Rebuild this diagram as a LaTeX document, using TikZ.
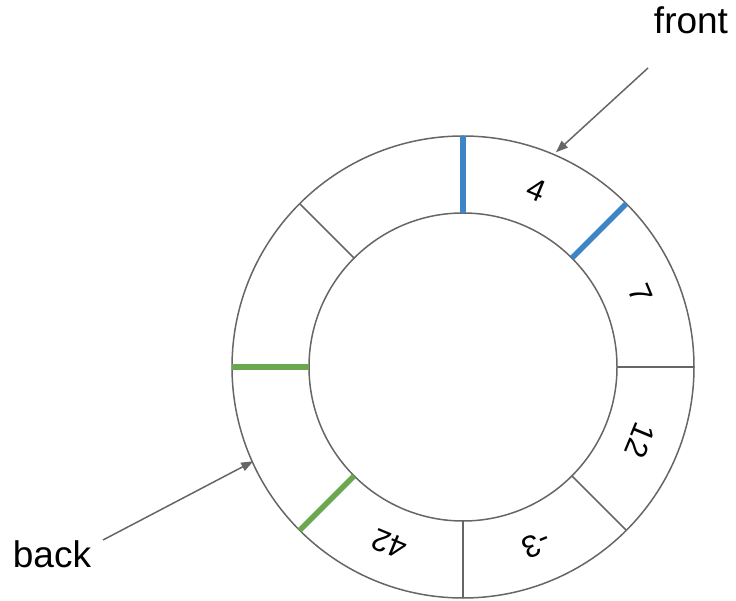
\documentclass[tikz,border=0pt]{standalone}
\usepackage{fontspec}
\setmainfont{Liberation Sans}
\usetikzlibrary{arrows.meta}
\definecolor{ringgray}{HTML}{666666}
\definecolor{qblue}{HTML}{3D85C6}
\definecolor{qgreen}{HTML}{6AA84F}
\begin{document}
\begin{tikzpicture}[x=1pt,y=1pt,
  ring/.style={draw=ringgray, line width=1.5pt},
  divider/.style={draw=ringgray, line width=1.5pt},
  blueptr/.style={draw=qblue, line width=5.5pt},
  greenptr/.style={draw=qgreen, line width=5.5pt},
  val/.style={font=\fontsize{31}{36}\selectfont, inner sep=0pt},
  lbl/.style={font=\fontsize{37}{42}\selectfont, inner sep=0pt, anchor=base},
  pointer/.style={draw=ringgray, line width=1.5pt, -{Triangle[length=12pt,width=9pt]}}]
\useasboundingbox (0,0) rectangle (736,600);
\coordinate (c) at (463,233);
% ring
\draw[ring] (c) circle[radius=231];
\draw[ring] (c) circle[radius=154];
% plain dividers
\foreach \a in {0,-45,-90,135}
  \draw[divider] (c) ++(\a:154) -- ++(\a:77);
% front pointer dividers
\foreach \a in {90,45}
  \draw[blueptr] (c) ++(\a:154) -- ++(\a:77);
% back pointer dividers
\foreach \a in {180,225}
  \draw[greenptr] (c) ++(\a:154) -- ++(\a:77);
% values
\node[val, rotate=-22.5] (v4)  at ([shift={(67.5:192)}]c) {4};
\node[val, rotate=-67.5] (v7)  at ([shift={(22.5:192)}]c) {7};
\node[val, rotate=-112.5] (v12) at ([shift={(-22.5:192)}]c) {12};
\node[val, rotate=-157.5] (vm3) at ([shift={(-67.5:192)}]c) {-3};
\node[val, rotate=157.5] (v42) at ([shift={(-112.5:192)}]c) {42};
% labels
\node[lbl] (front) at (691,566) {front};
\node[lbl] (back) at (52,33) {back};
% arrows
\coordinate (fs) at (648,532);
\coordinate (fe) at ([shift={(66.6:234)}]c);
\coordinate (bs) at (103,60);
\coordinate (be) at ([shift={(204.2:230)}]c);
\draw[pointer] (fs) -- (fe);
\draw[pointer] (bs) -- (be);
\end{tikzpicture}
\end{document}
